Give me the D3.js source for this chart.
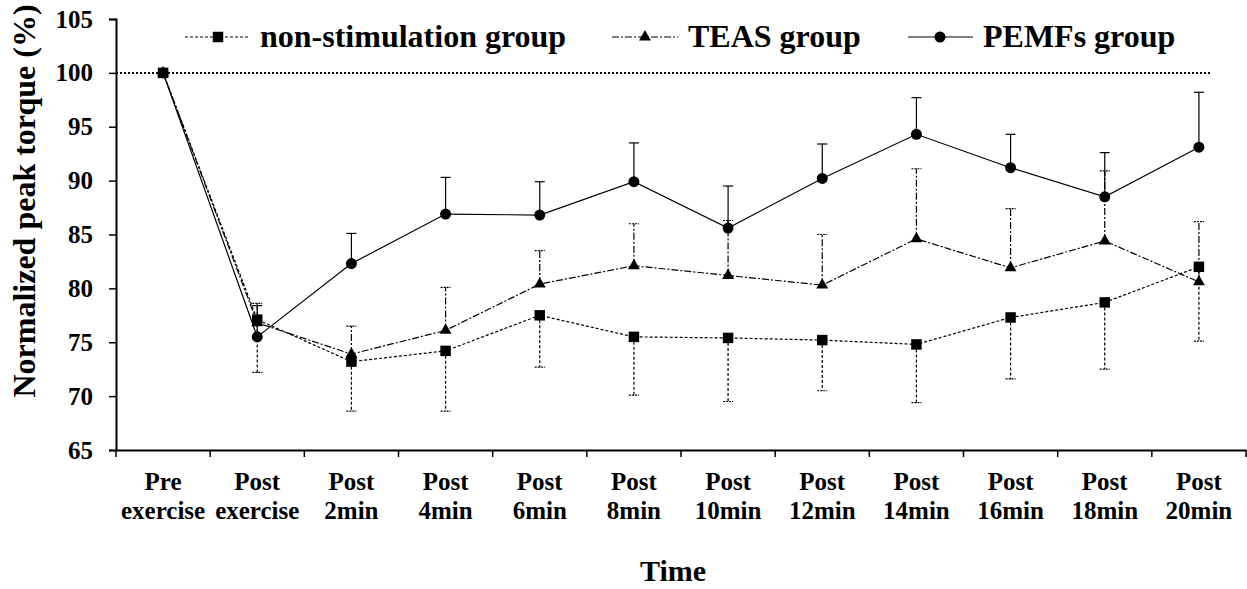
<!DOCTYPE html>
<html>
<head>
<meta charset="utf-8">
<script src="https://cdn.jsdelivr.net/npm/d3@7"></script>
<style>
  html, body { margin: 0; padding: 0; background: #fff; }
  svg { display: block; }
  svg text { font-family: "Liberation Serif", "Times New Roman", serif !important; font-weight: bold; fill: #000; }
</style>
</head>
<body>
<svg id="chart" width="1247" height="589"></svg>
<script>
// ---------- data ----------
const categories = ["Pre exercise", "Post exercise", "Post 2min", "Post 4min", "Post 6min", "Post 8min",
                    "Post 10min", "Post 12min", "Post 14min", "Post 16min", "Post 18min", "Post 20min"];
const labelLine1 = ["Pre", "Post", "Post", "Post", "Post", "Post", "Post", "Post", "Post", "Post", "Post", "Post"];
const labelLine2 = ["exercise", "exercise", "2min", "4min", "6min", "8min", "10min", "12min", "14min", "16min", "18min", "20min"];

const nonStim   = [100, 77.1, 73.2, 74.2, 77.5, 75.5, 75.4, 75.2, 74.8, 77.3, 78.7, 82.0];
const nonStimSD = [0, 4.9, 4.6, 5.6, 4.8, 5.4, 5.9, 4.7, 5.4, 5.7, 6.2, 6.9];   // drawn downward

const teas      = [100, 76.8, 73.9, 76.1, 80.4, 82.1, 81.2, 80.3, 84.6, 81.9, 84.4, 80.6];
const teasSD    = [0, 1.8, 2.6, 4.0, 3.1, 3.9, 5.1, 4.7, 6.5, 5.5, 6.5, 5.6];    // drawn upward

const pemfs     = [100, 75.5, 82.3, 86.9, 86.8, 89.9, 85.6, 90.2, 94.3, 91.2, 88.5, 93.1];
const pemfsSD   = [0, 2.9, 2.8, 3.4, 3.1, 3.6, 3.9, 3.2, 3.4, 3.1, 4.1, 5.1];    // drawn upward

const yTicks = [65, 70, 75, 80, 85, 90, 95, 100, 105];
const legendNames = ["non-stimulation group", "TEAS group", "PEMFs group"];
const refValue = 100;

// ---------- layout ----------
const FONT = "'Liberation Serif', 'Times New Roman', serif";
const svg = d3.select("#chart");
const x = d3.scaleBand().domain(categories).range([116, 1246]).padding(0);
const y = d3.scaleLinear().domain([65, 105]).range([450, 19]);
const cx = c => x(c) + x.bandwidth() / 2;

const series = [
  { name: legendNames[0], values: nonStim, sd: nonStimSD, dir: -1, dash: "3,2", symbol: d3.symbolSquare, size: 110 },
  { name: legendNames[1], values: teas, sd: teasSD, dir: 1, dash: "7,2,2,2", symbol: d3.symbolTriangle, size: 62 },
  { name: legendNames[2], values: pemfs, sd: pemfsSD, dir: 1, dash: null, symbol: d3.symbolCircle, size: 95 }
];

// reference line at 100
svg.append("line")
  .attr("x1", 116).attr("x2", 1210)
  .attr("y1", y(refValue)).attr("y2", y(refValue))
  .attr("stroke", "#000").attr("stroke-width", 2).attr("stroke-dasharray", "2,2");

// axes
const yAxis = d3.axisLeft(y).tickValues(yTicks).tickSize(7).tickPadding(16).tickFormat(d3.format("d"));
const gy = svg.append("g").attr("transform", "translate(116,0)").call(yAxis)
  .attr("font-family", FONT).attr("font-size", 25).attr("font-weight", "bold");
gy.select(".domain").attr("stroke-width", 2);
gy.selectAll(".tick line").attr("stroke-width", 1.5);
gy.selectAll(".tick text").attr("font-family", FONT).style("font-family", FONT)
  .style("font-size", "25px").style("font-weight", "bold");

const xAxis = d3.axisBottom(x).tickSize(0).tickFormat("");
const gx = svg.append("g").attr("transform", "translate(0,450)").call(xAxis);
gx.select(".domain").attr("stroke-width", 2);
// tick marks between categories
const boundaries = categories.map(c => x(c)).concat([x(categories[categories.length - 1]) + x.bandwidth()]);
gx.selectAll(".bnd").data(boundaries).enter().append("line")
  .attr("x1", d => d).attr("x2", d => d).attr("y1", 0).attr("y2", 7)
  .attr("stroke", "#000").attr("stroke-width", 1.5);

// x labels (two lines)
const xl = svg.append("g");
categories.forEach((c, i) => {
  const t = xl.append("text").attr("text-anchor", "middle")
    .style("font-family", FONT).style("font-size", "25px").style("font-weight", "bold");
  t.append("tspan").attr("x", cx(c)).attr("y", 490).text(labelLine1[i]);
  t.append("tspan").attr("x", cx(c)).attr("y", 519).text(labelLine2[i]);
});

// axis titles
svg.append("text").attr("text-anchor", "middle")
  .attr("transform", "translate(35,201) rotate(-90)")
  .style("font-family", FONT).style("font-size", "32px").text("Normalized peak torque (%)");
svg.append("text").attr("text-anchor", "middle")
  .attr("x", 673).attr("y", 581).style("font-family", FONT).style("font-size", "30px").text("Time");

// series
const line = d3.line().x((d, i) => cx(categories[i])).y(d => y(d));
series.slice().reverse().forEach(s => {
  const g = svg.append("g");
  // error bars
  s.values.forEach((v, i) => {
    if (!s.sd[i]) return;
    const xc = cx(categories[i]);
    const yEnd = y(v + s.dir * s.sd[i]);
    g.append("line").attr("x1", xc).attr("x2", xc).attr("y1", y(v)).attr("y2", yEnd)
      .attr("stroke", "#000").attr("stroke-width", 1.2).attr("stroke-dasharray", s.dash);
    g.append("line").attr("x1", xc - 5).attr("x2", xc + 5).attr("y1", yEnd).attr("y2", yEnd)
      .attr("stroke", "#000").attr("stroke-width", 1.2).attr("stroke-dasharray", s.dash ? "2,1" : null);
  });
  g.append("path").datum(s.values).attr("d", line)
    .attr("fill", "none").attr("stroke", "#000").attr("stroke-width", 1.2)
    .attr("stroke-dasharray", s.dash);
  g.selectAll(".m").data(s.values).enter().append("path")
    .attr("transform", (d, i) => `translate(${cx(categories[i])},${y(d)})`)
    .attr("d", d3.symbol().type(s.symbol).size(s.size)).attr("fill", "#000");
});

// legend
const legendPos = [
  { x1: 185, x2: 250, mx: 218, tx: 260 },
  { x1: 612, x2: 678, mx: 645, tx: 688 },
  { x1: 908, x2: 973, mx: 940, tx: 983 }
];
const ly = 37;
series.forEach((s, i) => {
  const p = legendPos[i];
  svg.append("line").attr("x1", p.x1).attr("x2", p.x2).attr("y1", ly).attr("y2", ly)
    .attr("stroke", "#000").attr("stroke-width", 1.2).attr("stroke-dasharray", s.dash);
  svg.append("path").attr("transform", `translate(${p.mx},${ly})`)
    .attr("d", d3.symbol().type(s.symbol).size(s.size)).attr("fill", "#000");
  svg.append("text").attr("x", p.tx).attr("y", ly + 10)
    .style("font-family", FONT).style("font-size", "32px").text(s.name);
});
</script>
</body>
</html>
